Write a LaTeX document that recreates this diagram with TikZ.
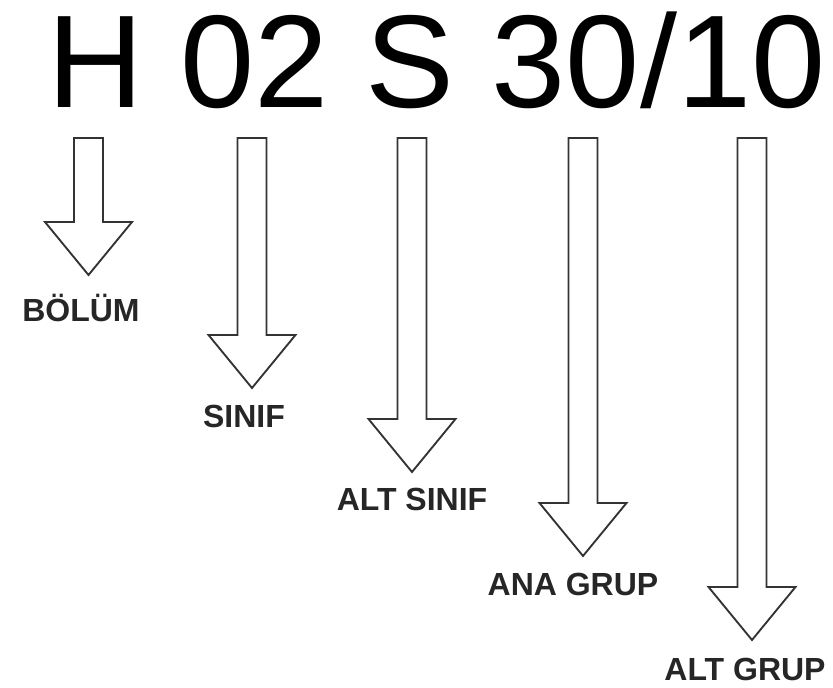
\documentclass[tikz,border=0pt]{standalone}
\usepackage{fontspec}
\setmainfont{Liberation Sans}
\usetikzlibrary{calc}

\begin{document}
\begin{tikzpicture}[
  x=0.75pt, y=-0.75pt,
  code/.style={inner sep=0pt, anchor=base west, font=\fontsize{99pt}{110pt}\selectfont},
  lbl/.style={inner sep=0pt, anchor=base, font=\fontsize{24pt}{28pt}\selectfont\bfseries, text=black!85},
  blockarrow/.style={draw=black!80, line width=1.4pt, fill=white, line join=miter,
    to path={($(\tikztostart)+(-14.5,0)$) -- ($(\tikztotarget)+(-14.5,-53)$)
      -- ($(\tikztotarget)+(-43.5,-53)$) -- (\tikztotarget)
      -- ($(\tikztotarget)+(43.5,-53)$) -- ($(\tikztotarget)+(14.5,-53)$)
      -- ($(\tikztostart)+(14.5,0)$) -- cycle}},
]
\useasboundingbox (0,0) rectangle (833,688);
% Code
\node[code, xscale=1.01] (kod) at (47,108) {H 02 S 30/10};
% Arrow starts under each part of the code
\coordinate (sBolum)    at (88.5,138);
\coordinate (sSinif)    at (252,138);
\coordinate (sAltSinif) at (412,138);
\coordinate (sAnaGrup)  at (583,138);
\coordinate (sAltGrup)  at (752,138);
% Arrow tips
\coordinate (eBolum)    at (88.5,275);
\coordinate (eSinif)    at (252,388);
\coordinate (eAltSinif) at (412,472);
\coordinate (eAnaGrup)  at (583,556);
\coordinate (eAltGrup)  at (752,640);
% Labels
\node[lbl] (bolum)    at (81,322)  {BÖLÜM};
\node[lbl] (sinif)    at (244,427) {SINIF};
\node[lbl] (altsinif) at (412,510) {ALT SINIF};
\node[lbl] (anagrup)  at (573,595) {ANA GRUP};
\node[lbl] (altgrup)  at (745,680) {ALT GRUP};
% Block arrows
\draw[blockarrow] (sBolum) to (eBolum);
\draw[blockarrow] (sSinif) to (eSinif);
\draw[blockarrow] (sAltSinif) to (eAltSinif);
\draw[blockarrow] (sAnaGrup) to (eAnaGrup);
\draw[blockarrow] (sAltGrup) to (eAltGrup);
\end{tikzpicture}
\end{document}
